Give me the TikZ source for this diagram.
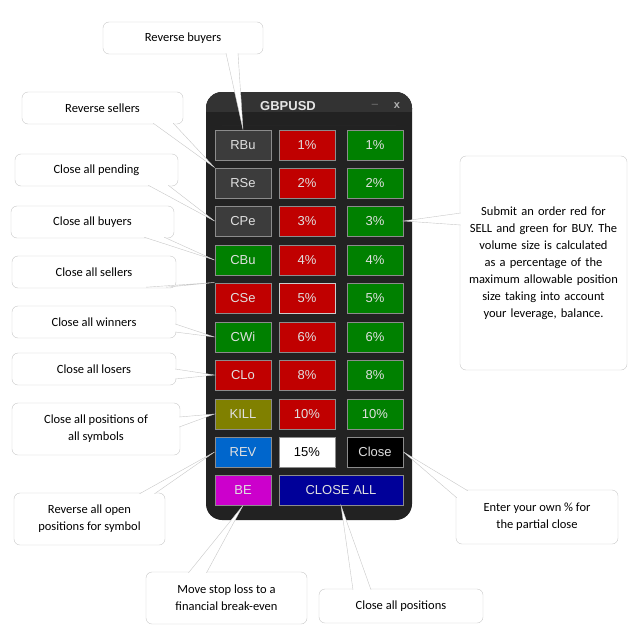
\documentclass[tikz,border=0pt]{standalone}
\usepackage{fontspec}
\setmainfont{Carlito}
\newfontfamily\btnfont{Liberation Sans}
\usetikzlibrary{calc}
\definecolor{panel}{HTML}{222222}
\definecolor{bgray}{HTML}{3C3C3C}
\definecolor{bred}{HTML}{C00000}
\definecolor{bgreen}{HTML}{008000}
\definecolor{bolive}{HTML}{808000}
\definecolor{bblue}{HTML}{0066CC}
\definecolor{bmag}{HTML}{CC00CC}
\definecolor{bnavy}{HTML}{000099}
\definecolor{cline}{HTML}{C8C8C8}
\tikzset{
 btn/.style={draw=gray!90,line width=1pt,minimum width=56pt,minimum height=30pt,inner sep=0pt,text=white!88!black,font=\btnfont\fontsize{13}{15}\selectfont},
 callout/.style={draw=cline,fill=white,rounded corners=6pt,align=center,font=\fontsize{12.5}{17}\selectfont,inner sep=3pt},
 tailst/.style={draw=cline,fill=white,line join=miter}
}
\newcommand{\tailto}[3]{\path[tailst] (#1) -- (#3) -- (#2);}
\begin{document}
\begin{tikzpicture}[x=1pt,y=-1pt]
\useasboundingbox (0,0) rectangle (633,642);
% panel
\fill[panel,rounded corners=16pt] (206,92) rectangle (412,520);
\fill[black!80,rounded corners=16pt] (206,92) rectangle (412,125);
\fill[panel] (206,112) rectangle (412,125);
\node (title) at (288,106) {\btnfont\bfseries\fontsize{13}{15}\selectfont\color{white!90!black}GBPUSD};
\node (minb) at (375,104) {\btnfont\bfseries\fontsize{11}{13}\selectfont\color{gray!60}\_};
\node (xb) at (397,106) {\btnfont\bfseries\fontsize{11}{13}\selectfont\color{gray!60}x};
% buttons
\foreach \i/\y/\a/\ac/\b/\bc/\c/\cc in {
 1/145/RBu/bgray/1\%/bred/1\%/bgreen,
 2/183/RSe/bgray/2\%/bred/2\%/bgreen,
 3/221/CPe/bgray/3\%/bred/3\%/bgreen,
 4/260/CBu/bgreen/4\%/bred/4\%/bgreen,
 5/298/CSe/bred/5\%/bred/5\%/bgreen,
 6/337/CWi/bgreen/6\%/bred/6\%/bgreen,
 7/375/CLo/bred/8\%/bred/8\%/bgreen,
 8/414/KILL/bolive/10\%/bred/10\%/bgreen}{
 \node[btn,fill=\ac] (a\i) at (243,\y) {\a};
 \node[btn,fill=\bc] (b\i) at (307,\y) {\b};
 \node[btn,fill=\cc] (c\i) at (375,\y) {\c};
}
\node[btn,draw=gray!40,fill=bred] at (307,298) {5\%};
\node[btn,fill=bblue] (a9) at (243,452) {REV};
\node[btn,fill=white,text=black] (b9) at (307,452) {15\%};
\node[btn,fill=black] (c9) at (375,452) {Close};
\node[btn,fill=bmag] (a10) at (243,490) {BE};
\node[btn,fill=bnavy,minimum width=124pt] (b10) at (341,490) {CLOSE ALL};
% callouts
\node[callout,minimum width=160pt,minimum height=32pt] (k1) at (183,38) {Reverse buyers};
\node[callout,minimum width=161pt,minimum height=32pt] (k2) at (102.5,108) {Reverse sellers};
\node[callout,minimum width=163pt,minimum height=32pt] (k3) at (96.5,170) {Close all pending};
\node[callout,minimum width=163pt,minimum height=32pt] (k4) at (92.5,222) {Close all buyers};
\node[callout,minimum width=164pt,minimum height=32pt] (k5) at (94,272) {Close all sellers};
\node[callout,minimum width=164pt,minimum height=32pt] (k6) at (94,322) {Close all winners};
\node[callout,minimum width=164pt,minimum height=32pt] (k7) at (94,369) {Close all losers};
\node[callout,minimum width=168pt,minimum height=52pt] (k8) at (96,429) {Close all positions of\\all symbols};
\node[callout,minimum width=151pt,minimum height=52pt] (k9) at (89.5,519) {Reverse all open\\positions for symbol};
\node[callout,minimum width=161pt,minimum height=52pt] (k10) at (226.5,598) {Move stop loss to a\\financial break-even};
\node[callout,minimum width=164pt,minimum height=34pt] (k11) at (401,606) {Close all positions};
\node[callout,minimum width=167pt,minimum height=214pt,text width=150pt] (k12) at (543.5,263) {Submit an order red for SELL and green for BUY. The volume size is calculated as a percentage of the maximum allowable position size taking into account your leverage, balance.};
\node[callout,minimum width=162pt,minimum height=54pt] (k13) at (537,517) {Enter your own \% for\\the partial close};
% tails
\tailto{$(k1.south)+(43,-1)$}{$(k1.south)+(55,-1)$}{a1.north}
\tailto{$(k2.south east)+(-30,-1)$}{$(k2.south east)+(-10,-1)$}{a2.north west}
\tailto{$(k3.south east)+(-30,-1)$}{$(k3.south east)+(-10,-1)$}{a3.west}
\tailto{$(k4.south east)+(-30,-1)$}{$(k4.south east)+(-10,-1)$}{a4.west}
\tailto{$(k5.south east)+(-30,-1)$}{$(k5.south east)+(-10,-1)$}{a5.north west}
\tailto{$(k6.east)+(-1,2)$}{$(k6.east)+(-1,10)$}{a6.west}
\tailto{$(k7.east)+(-1,0)$}{$(k7.east)+(-1,10)$}{a7.west}
\tailto{$(k8.east)+(-1,-12)$}{$(k8.east)+(-1,-2)$}{a8.west}
\tailto{$(k9.north)+(50,1)$}{$(k9.north)+(65,1)$}{a9.west}
\tailto{$(k10.north)+(-38,1)$}{$(k10.north)+(-20,1)$}{a10.south}
\tailto{$(k11.north)+(-48,1)$}{$(k11.north)+(-30,1)$}{b10.south}
\tailto{$(k12.west)+(1,-50)$}{$(k12.west)+(1,-38)$}{c3.east}
\tailto{$(k13.north west)+(1,8)$}{$(k13.north west)+(12,1)$}{c9.east}
% redraw boxes over tail bases
\foreach \k in {k1,k2,k3,k4,k5,k6,k7,k8,k9,k10,k11,k12,k13}{}
\end{tikzpicture}
\end{document}
